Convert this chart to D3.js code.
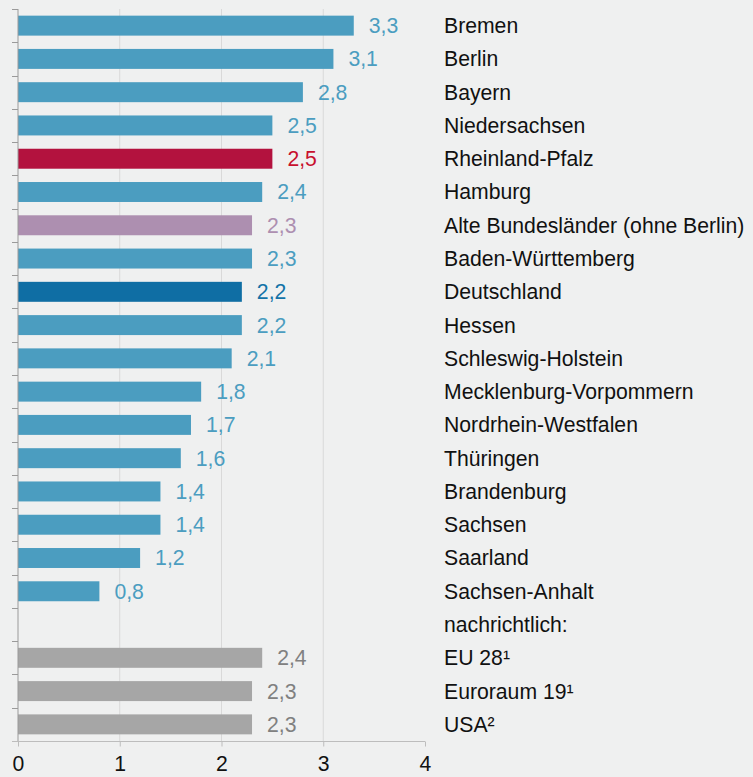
<!DOCTYPE html>
<html>
<head>
<meta charset="utf-8">
<script src="https://cdn.jsdelivr.net/npm/d3@7"></script>
<style>
  html, body { margin: 0; padding: 0; background: #eff0f0; }
  svg text { font-family: "Liberation Sans", Arial, sans-serif; }
</style>
</head>
<body>
<div id="chart"></div>
<script>
// Data
const categories = [
    "Bremen", "Berlin", "Bayern", "Niedersachsen", "Rheinland-Pfalz", "Hamburg",
    "Alte Bundesländer (ohne Berlin)", "Baden-Württemberg", "Deutschland", "Hessen",
    "Schleswig-Holstein", "Mecklenburg-Vorpommern", "Nordrhein-Westfalen", "Thüringen",
    "Brandenburg", "Sachsen", "Saarland", "Sachsen-Anhalt", "nachrichtlich:",
    "EU 28¹", "Euroraum 19¹", "USA²"
];
const values = [3.3, 3.1, 2.8, 2.5, 2.5, 2.4, 2.3, 2.3, 2.2, 2.2, 2.1, 1.8, 1.7, 1.6, 1.4, 1.4, 1.2, 0.8, null, 2.4, 2.3, 2.3];
// bar style per row
const kinds = ["land", "land", "land", "land", "rp", "land", "alt", "land", "de", "land",
    "land", "land", "land", "land", "land", "land", "land", "land", "none", "int", "int", "int"];
const xTicks = [0, 1, 2, 3, 4];

const barColor = { land: "#4b9dc0", rp: "#b3123e", alt: "#ad8fb0", de: "#0f6ea4", int: "#a6a6a6" };
const labelColor = { land: "#4b9dc0", rp: "#c8102e", alt: "#ad8fb0", de: "#1373a8", int: "#808080" };

const width = 753, height = 777;
const margin = { left: 18, top: 9, right: 328, bottom: 36 };
const fontSize = 21.2;

const x = d3.scaleLinear().domain([0, 4]).range([margin.left, 425]);
const y = d3.scaleBand().domain(categories).range([margin.top, height - margin.bottom]).paddingInner(0.4).paddingOuter(0.2);

const svg = d3.select("#chart").append("svg")
    .attr("width", width)
    .attr("height", height);

// gridlines
svg.append("g").selectAll("line")
    .data(xTicks.filter(t => t > 0 && t < 4))
    .enter().append("line")
    .attr("x1", d => x(d)).attr("x2", d => x(d))
    .attr("y1", margin.top).attr("y2", height - margin.bottom)
    .attr("stroke", "#d9d9d9").attr("stroke-width", 1);

const rows = categories.map((c, i) => ({ name: c, value: values[i], kind: kinds[i] }));

// bars
svg.append("g").selectAll("rect")
    .data(rows.filter(d => d.value !== null))
    .enter().append("rect")
    .attr("x", x(0))
    .attr("y", d => y(d.name))
    .attr("width", d => x(d.value) - x(0))
    .attr("height", y.bandwidth())
    .attr("fill", d => barColor[d.kind]);

// value labels
svg.append("g").selectAll("text")
    .data(rows.filter(d => d.value !== null))
    .enter().append("text")
    .attr("x", d => x(d.value) + 15)
    .attr("y", d => y(d.name) + y.bandwidth() / 2)
    .attr("dy", "0.35em")
    .attr("font-size", fontSize)
    .attr("fill", d => labelColor[d.kind])
    .text(d => d3.format(".1f")(d.value).replace(".", ","));

// category labels
svg.append("g").selectAll("text")
    .data(rows)
    .enter().append("text")
    .attr("x", 444)
    .attr("y", d => y(d.name) + y.bandwidth() / 2)
    .attr("dy", "0.35em")
    .attr("font-size", fontSize)
    .attr("fill", "#111")
    .text(d => d.name);

// left axis with ticks at band boundaries
const bottomY = height - margin.bottom;
const bounds = d3.range(categories.length + 1).map(i => margin.top + i * y.step());
const leftAxis = svg.append("g");
leftAxis.append("line")
    .attr("x1", x(0)).attr("x2", x(0))
    .attr("y1", margin.top).attr("y2", bottomY)
    .attr("stroke", "#9a9a9a");
leftAxis.selectAll("line.tick")
    .data(bounds)
    .enter().append("line")
    .attr("class", "tick")
    .attr("x1", x(0) - 6).attr("x2", x(0))
    .attr("y1", d => Math.round(d) + 0.5).attr("y2", d => Math.round(d) + 0.5)
    .attr("stroke", "#9a9a9a");

// bottom axis
const xAxis = d3.axisBottom(x).tickValues(xTicks).tickSize(5).tickPadding(9).tickFormat(d3.format("d"));
const gx = svg.append("g")
    .attr("transform", `translate(0,${Math.round(bottomY) + 0.5})`)
    .call(xAxis);
gx.select(".domain").attr("d", `M${x(0) - 6},0H${x(4)}`).attr("stroke", "#bdbdbd");
gx.selectAll(".tick line").attr("stroke", "#bdbdbd");
gx.selectAll(".tick text")
    .attr("font-size", fontSize)
    .attr("font-family", "Liberation Sans, Arial, sans-serif")
    .attr("fill", "#111");
</script>
</body>
</html>
